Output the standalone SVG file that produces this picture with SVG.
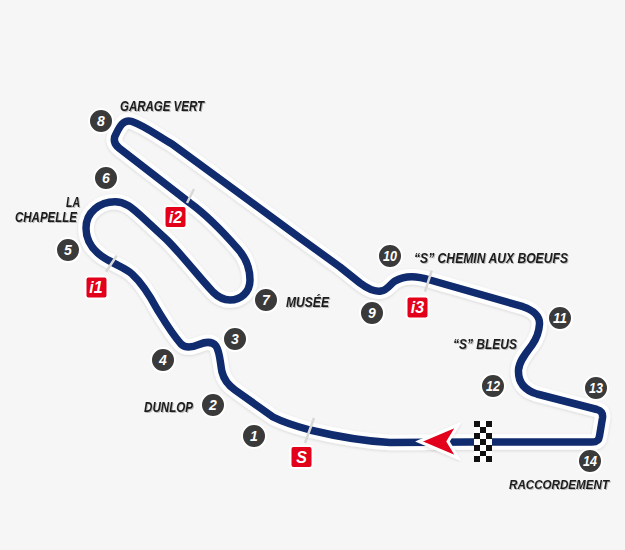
<svg xmlns="http://www.w3.org/2000/svg" width="625" height="550" viewBox="0 0 625 550">
<defs>
<filter id="soft" x="-10%" y="-10%" width="120%" height="120%"><feDropShadow dx="0" dy="1" stdDeviation="1.500" flood-color="#000" flood-opacity="0.12"/></filter>
<filter id="ts" x="-5%" y="-5%" width="110%" height="110%"><feDropShadow dx="1" dy="1" stdDeviation="0.700" flood-color="#000" flood-opacity="0.25"/></filter>
<path id="track" d="M132 121.500 C145 126 158 136 172 144 L300 238 L340 267 L360 283 C368 289 375 292 381 291 C388 290 390 284 395 281 C405 275 418 276 430 280 L523 306.700 C533 310 540 316 539.500 324 C539 333 537 338 532 345 C526 353 519 361 518.500 370 C518 382 524 390 537 394 L597 409.500 C602 411 603 414 602.500 418 L599.500 436 C599 440 597 442 592 442 L470 442 L390 442.500 C360 441 335 436 310 430 C295 426 283 422 273 417 L235 390 C228 385 224 380 222 372 C220 362 220 352 216 346 C212 341 205 342 199 344.500 C193 347 186 349 181 344 C172 334 165 322 157 309 C150 296 143 284 132 274 C125 268 118 266 111.700 262 C95 254 86 243 86 228 C86 212 100 201.700 115 201.700 C125 201.700 132 208 140 215 L167 240 C182 255 198 276 213 292 C219 298 224 300 230 300 C241 300 250 292 250 280 C250 268 246 258 238 249 C224 233 208 216 190 203 L119 148 C114 144 113 139 116 134 C119 128 123 118.500 132 121.500 Z"/>
</defs>
<style>
.bg{fill:#f6f6f7}
.tw{fill:none;stroke:#fff;stroke-width:15.500;stroke-linejoin:round}
.tb{fill:none;stroke:#102c6e;stroke-width:7.500;stroke-linejoin:round}
.tick{stroke:#d9d9da;stroke-width:2.500}
.num circle{fill:#3a3a3a;stroke:#fff;stroke-width:2}
.num text{fill:#fff;font:italic bold 14px "Liberation Sans",Arial,sans-serif;text-anchor:middle}
.sec rect{fill:#e2001a;stroke:#fff;stroke-width:2}
.sec text{fill:#fff;font:italic bold 16px "Liberation Sans",Arial,sans-serif;text-anchor:middle}
.lab{fill:#1c1c1c;font:italic bold 14px "Liberation Sans",Arial,sans-serif}
</style>
<rect class="bg" width="625" height="550"/>
<g id="connectors">
<use href="#track" class="tw" filter="url(#soft)"/>
<use href="#track" class="tb"/>
<path class="tick" d="M116.700 255.700L106 271.700M194 189L187 203M314 418L305 443M431.700 270.700L425 291.700" fill="none"/>
</g>
<g id="start-arrow">
<path d="M419 441.500L458 425L448 441.500L458 458Z" fill="#e2001a" stroke="#fff" stroke-width="3" stroke-linejoin="miter" filter="url(#soft)"/>
</g>
<g id="checker">
<rect x="474" y="421" width="18" height="41" fill="#fff"/>
<path d="M474 421h6v6h-6zM486 421h6v6h-6zM480 427h6v6h-6zM474 433h6v6h-6zM486 433h6v6h-6zM480 439h6v6h-6zM474 445h6v6h-6zM486 445h6v6h-6zM480 451h6v5h-6zM474 456h6v6h-6zM486 456h6v6h-6z" fill="#111"/>
</g>
<g id="n1" class="num"><circle cx="254" cy="436" r="12"/><text x="254" y="441">1</text></g>
<g id="n2" class="num"><circle cx="213" cy="405" r="12"/><text x="213" y="410">2</text></g>
<g id="n3" class="num"><circle cx="235" cy="339" r="12"/><text x="235" y="344">3</text></g>
<g id="n4" class="num"><circle cx="163" cy="360" r="12"/><text x="163" y="365">4</text></g>
<g id="n5" class="num"><circle cx="68" cy="250" r="12"/><text x="68" y="255">5</text></g>
<g id="n6" class="num"><circle cx="106" cy="178" r="12"/><text x="106" y="183">6</text></g>
<g id="n7" class="num"><circle cx="266" cy="300" r="12"/><text x="266" y="305">7</text></g>
<g id="n8" class="num"><circle cx="101" cy="121" r="12"/><text x="101" y="126">8</text></g>
<g id="n9" class="num"><circle cx="372" cy="313" r="12"/><text x="372" y="318">9</text></g>
<g id="n10" class="num"><circle cx="390" cy="256" r="12"/><text x="390" y="261" textLength="14" lengthAdjust="spacingAndGlyphs">10</text></g>
<g id="n11" class="num"><circle cx="560" cy="318" r="12"/><text x="560" y="323" textLength="14" lengthAdjust="spacingAndGlyphs">11</text></g>
<g id="n12" class="num"><circle cx="493" cy="386" r="12"/><text x="493" y="391" textLength="14" lengthAdjust="spacingAndGlyphs">12</text></g>
<g id="n13" class="num"><circle cx="596" cy="388" r="12"/><text x="596" y="393" textLength="14" lengthAdjust="spacingAndGlyphs">13</text></g>
<g id="n14" class="num"><circle cx="590" cy="461" r="12"/><text x="590" y="466" textLength="14" lengthAdjust="spacingAndGlyphs">14</text></g>
<g id="sS" class="sec"><rect x="290.500" y="446" width="22" height="22" rx="3"/><text x="301.500" y="462.500">S</text></g>
<g id="si1" class="sec"><rect x="85.500" y="276.500" width="22" height="22" rx="3"/><text x="96" y="293">i1</text></g>
<g id="si2" class="sec"><rect x="164.500" y="206" width="22" height="22" rx="3"/><text x="175.500" y="222.500">i2</text></g>
<g id="si3" class="sec"><rect x="406.500" y="296.500" width="22" height="22" rx="3"/><text x="417.500" y="313">i3</text></g>
<g id="labels" filter="url(#ts)">
<text class="lab" x="120" y="110.500" textLength="84" lengthAdjust="spacingAndGlyphs">GARAGE VERT</text>
<text class="lab" x="66" y="206.500" textLength="14" lengthAdjust="spacingAndGlyphs">LA</text>
<text class="lab" x="15" y="222" textLength="62" lengthAdjust="spacingAndGlyphs">CHAPELLE</text>
<text class="lab" x="286" y="306.500" textLength="43" lengthAdjust="spacingAndGlyphs">MUSÉE</text>
<text class="lab" x="144" y="412" textLength="49" lengthAdjust="spacingAndGlyphs">DUNLOP</text>
<text class="lab" x="414" y="262.500" textLength="154" lengthAdjust="spacingAndGlyphs">“S” CHEMIN AUX BOEUFS</text>
<text class="lab" x="453" y="349" textLength="64" lengthAdjust="spacingAndGlyphs">“S” BLEUS</text>
<text class="lab" x="509" y="489" textLength="100" lengthAdjust="spacingAndGlyphs" style="font-size:13px">RACCORDEMENT</text>
</g>
</svg>
